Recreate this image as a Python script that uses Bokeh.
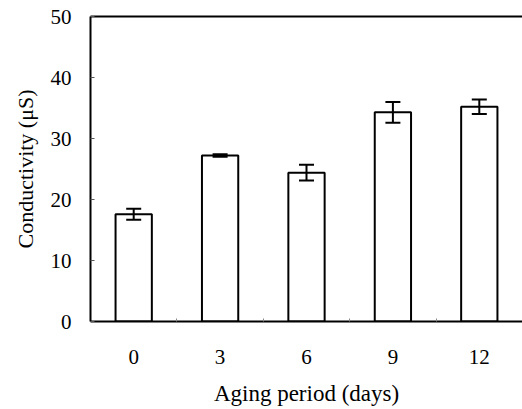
from bokeh.plotting import figure
from bokeh.models import ColumnDataSource, Whisker, TeeHead, FixedTicker, Range1d, LinearAxis
from bokeh.embed import file_html
from bokeh.resources import INLINE

categories = ["0", "3", "6", "9", "12"]
conductivity = [17.6, 27.2, 24.4, 34.3, 35.2]
errors = [0.9, 0.2, 1.3, 1.7, 1.2]
y_ticks = [0, 10, 20, 30, 40, 50]

xs = list(range(len(categories)))
src = ColumnDataSource(dict(
    x=xs, top=conductivity,
    upper=[v + e for v, e in zip(conductivity, errors)],
    lower=[v - e for v, e in zip(conductivity, errors)],
))

FONT = "Liberation Serif"

p = figure(width=522, height=409, output_backend="svg", toolbar_location=None,
           x_range=Range1d(-0.5, len(categories) - 0.5), y_range=Range1d(0, 50),
           min_border_left=90, min_border_right=0, min_border_top=16, min_border_bottom=88)

p.vbar(x="x", top="top", width=0.42, source=src, fill_color="white",
       line_color="black", line_width=2)

w = Whisker(base="x", upper="upper", lower="lower", source=src,
            line_color="black", line_width=2, level="overlay",
            upper_head=TeeHead(size=15, line_color="black", line_width=2),
            lower_head=TeeHead(size=15, line_color="black", line_width=2))
p.add_layout(w)

p.xgrid.visible = False
p.ygrid.visible = False
p.outline_line_color = None
p.background_fill_color = "white"
p.border_fill_color = "white"

# top border line (no right border in the reference)
top_axis = LinearAxis(ticker=FixedTicker(ticks=[], minor_ticks=[]),
                      axis_line_width=2, axis_line_color="black",
                      major_tick_in=0, major_tick_out=0, minor_tick_in=0, minor_tick_out=0,
                      major_label_standoff=0)
p.add_layout(top_axis, "above")

# x axis
bx = p.below[0]
bx.ticker = FixedTicker(ticks=xs, minor_ticks=[i + 0.5 for i in xs[:-1]])
bx.major_label_overrides = {i: c for i, c in zip(xs, categories)}
bx.major_tick_in = 0
bx.major_tick_out = 0
bx.minor_tick_in = 3
bx.minor_tick_out = 0
bx.minor_tick_line_color = "#888888"
bx.axis_line_width = 2
bx.axis_line_color = "black"
bx.axis_label = "Aging period (days)"
bx.major_label_standoff = 28
bx.axis_label_standoff = 14
bx.major_label_text_font = FONT
bx.major_label_text_font_size = "21px"
bx.major_label_text_color = "black"
bx.axis_label_text_font = FONT
bx.axis_label_text_font_style = "normal"
bx.axis_label_text_color = "black"
bx.axis_label_text_font_size = "23px"

# y axis
ly = p.left[0]
ly.ticker = FixedTicker(ticks=y_ticks, minor_ticks=[])
ly.major_tick_in = 4
ly.major_tick_out = 0
ly.major_tick_line_color = "#555555"
ly.axis_line_width = 2
ly.axis_line_color = "black"
ly.axis_label = "Conductivity (\u03bcS)"
ly.major_label_standoff = 19
ly.axis_label_standoff = 10
ly.major_label_text_font = FONT
ly.major_label_text_font_size = "21px"
ly.major_label_text_color = "black"
ly.axis_label_text_font = FONT
ly.axis_label_text_font_style = "normal"
ly.axis_label_text_color = "black"
ly.axis_label_text_font_size = "22px"
ly.major_label_orientation = "horizontal"

open("out.html", "w").write(file_html(p, INLINE))
